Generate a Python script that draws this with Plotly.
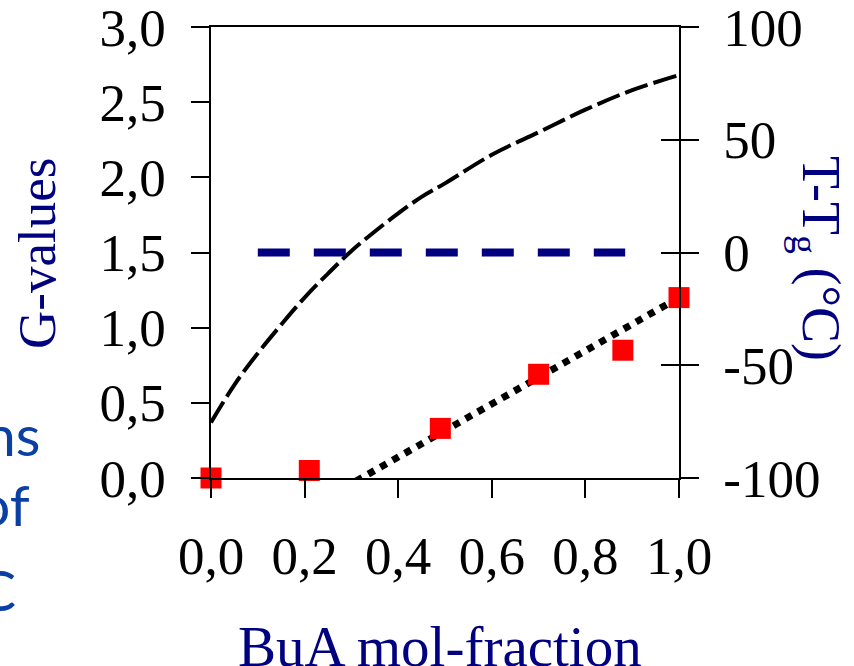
import plotly.graph_objects as go

# ---- data ----
frac_pts = [0.0, 0.21, 0.49, 0.70, 0.88, 1.0]
g_pts = [0.0, 0.05, 0.33, 0.69, 0.85, 1.20]

frac_curve = [0.0, 0.05, 0.1, 0.15, 0.2, 0.25, 0.3, 0.35, 0.4, 0.45, 0.5, 0.6, 0.7, 0.8, 0.9, 1.0]
g_curve = [0.37, 0.62, 0.83, 1.02, 1.20, 1.36, 1.51, 1.64, 1.76, 1.87, 1.96, 2.15, 2.30, 2.45, 2.58, 2.68]

frac_fit = [0.31, 1.0]
g_fit = [-0.02, 1.20]

frac_zero = [0.10, 0.885]
ttg_zero = [0, 0]

x_ticks = [0.0, 0.2, 0.4, 0.6, 0.8, 1.0]
g_ticks = [0.0, 0.5, 1.0, 1.5, 2.0, 2.5, 3.0]
t_ticks = [-100, -50, 0, 50, 100]
t_ticktext = ["-100", "-50", "0", "50", "100"]

SERIF = "Liberation Serif"
NAVY = "#000080"
SLIDE_BLUE = "#0a3fa3"

L, R, T, B = 211, 679, 27, 478
W, H = 854, 666

def px(x):
    return (x - L) / (R - L)

def py(y):
    return (B - y) / (B - T)

fig = go.Figure()

fig.add_trace(go.Scatter(x=frac_curve, y=g_curve, mode="lines",
                         line=dict(color="black", width=4, dash="24px,6px", shape="spline"),
                         showlegend=False))
fig.add_trace(go.Scatter(x=frac_fit, y=g_fit, mode="lines",
                         line=dict(color="black", width=7, dash="7px,7px"),
                         showlegend=False))
fig.add_trace(go.Scatter(x=frac_pts, y=g_pts, mode="markers",
                         marker=dict(symbol="square", size=21, color="#ff0000"),
                         cliponaxis=False, showlegend=False))
fig.add_trace(go.Scatter(x=frac_zero, y=ttg_zero, mode="lines", yaxis="y2",
                         line=dict(color=NAVY, width=8, dash="32px,24px"),
                         showlegend=False))
# invisible trace to activate the inside-tick overlay axis
fig.add_trace(go.Scatter(x=[0.5], y=[0], mode="markers", yaxis="y3",
                         marker=dict(opacity=0), showlegend=False, hoverinfo="skip"))

tickfont = dict(family=SERIF, size=53, color="black")
common = dict(showgrid=False, zeroline=False, tickcolor="black", tickwidth=1.5,
              ticklen=18, linecolor="black", linewidth=1.5)

fig.update_layout(
    width=W, height=H,
    margin=dict(l=L, r=W - R, t=T, b=H - B, pad=0, autoexpand=False),
    paper_bgcolor="white", plot_bgcolor="white",
    separators=",.",
    xaxis=dict(range=[0, 1], tickvals=x_ticks, tickformat=".1f",
               showline=True, mirror=True, ticks="outside", tickfont=tickfont,
               ticklabelstandoff=13, ticklabeloverflow="allow", **common),
    yaxis=dict(range=[0, 3], tickvals=g_ticks, tickformat=".1f",
               showline=True, ticks="outside", tickfont=tickfont,
               ticklabelstandoff=15, ticklabeloverflow="allow", **common),
    yaxis2=dict(range=[-100, 100], tickvals=t_ticks, ticktext=t_ticktext,
                overlaying="y", side="right", showline=True, ticks="outside",
                tickfont=tickfont, ticklabelstandoff=14,
                ticklabeloverflow="allow", **common),
    yaxis3=dict(range=[-100, 100], tickvals=t_ticks, overlaying="y", side="right",
                showline=False, ticks="inside", showticklabels=False, **common),
)

anns = [
    dict(text="G-values", x=px(37), y=py(254), textangle=-90,
         font=dict(family=SERIF, size=53, color=NAVY)),
    dict(text="T-T<sub>g</sub> (°C)", x=px(818), y=py(258), textangle=90,
         font=dict(family=SERIF, size=54, color=NAVY)),
    dict(text="BuA mol-fraction", x=px(440), y=py(646),
         font=dict(family=SERIF, size=57, color=NAVY)),
]
for a in anns:
    a.update(xref="paper", yref="paper", showarrow=False,
             xanchor="center", yanchor="middle")
    fig.add_annotation(**a)

for txt, right, mid in [("ns", 43, 434), ("of", 32, 504), ("C", 18, 589)]:
    fig.add_annotation(text=txt, x=px(right), y=py(mid), xref="paper", yref="paper",
                       xanchor="right", yanchor="middle", showarrow=False,
                       font=dict(family="Lato", size=57, color=SLIDE_BLUE))

fig.write_html("out.html",
               config={"displayModeBar": False},
               post_script="document.body.style.margin='0';document.body.style.overflow='hidden';")
